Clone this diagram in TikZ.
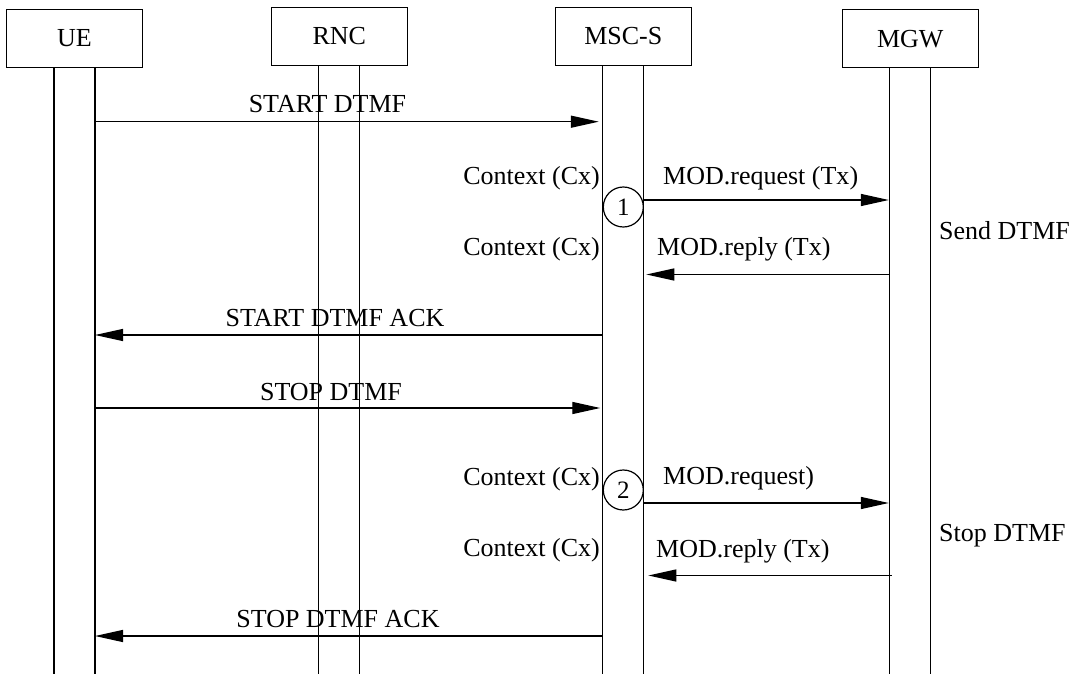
\documentclass[tikz,border=0pt]{standalone}
\usepackage{fontspec}
\setmainfont{Liberation Serif}
\usetikzlibrary{arrows.meta,positioning}

\begin{document}
\begin{tikzpicture}[x=1pt, y=-1pt,
      entity/.style={draw, line width=1pt, minimum width=136pt,
                     minimum height=58pt, inner sep=0pt,
                     font=\fontsize{26}{30}\selectfont},
      life/.style={line width=1.3pt},
      msg/.style={-{Triangle[length=28pt,width=12pt]}, line width=1.3pt},
      lbl/.style={inner sep=0pt, font=\fontsize{26}{30}\selectfont},
      txn/.style={draw, circle, line width=1.2pt, minimum size=40pt,
                  inner sep=0pt, font=\fontsize{25}{29}\selectfont}
    ]
    \useasboundingbox (0,0) rectangle (1073,674);
    % TOP: the four entities
    \node[entity] (ue)  at (74.5,38.5)  {UE};
    \node[entity] (rnc) at (339.3,36.2) {RNC};
    \node[entity] (msc) at (623.3,36.2) {MSC-S};
    \node[entity] (mgw) at (910.3,38.7) {MGW};
    % lifelines, two per entity
    \coordinate (bot) at (0,674);
    \foreach \e in {ue,rnc,msc,mgw} {
      \coordinate (\e L) at ([xshift=-20.5pt]\e.south);
      \coordinate (\e R) at ([xshift=20.5pt]\e.south);
      \draw[life] (\e L) -- (\e L |- bot);
      \draw[life] (\e R) -- (\e R |- bot);
    }
    % message rows
    \coordinate (r1) at (0,121.7);
    \coordinate (r2) at (0,200);
    \coordinate (r3) at (0,274.5);
    \coordinate (r4) at (0,335);
    \coordinate (r5) at (0,408);
    \coordinate (r6) at (0,503);
    \coordinate (r7) at (0,575.5);
    \coordinate (r8) at (0,636);
    % START DTMF
    \node[lbl, anchor=base] (sdtmf) at (327.5,113) {START DTMF};
    \draw[msg, shorten >=4pt] (ueR |- r1) -- (mscL |- r1);
    % first modify transaction
    \node[txn] (tx1) at (623.3,207) {1};
    \node[lbl, anchor=base east] (cx1) at (600,184) {Context (Cx)};
    \node[lbl, anchor=base west] (mreq1) at (663,184) {MOD.request (Tx)};
    \draw[msg, shorten >=1pt] (mscR |- r2) -- (mgwL |- r2);
    \node[lbl, anchor=base east] (cx2) at (600,255) {Context (Cx)};
    \node[lbl, anchor=base west] (mrep1) at (657,255) {MOD.reply (Tx)};
    \draw[msg, shorten >=2.5pt] (mgwL |- r3) -- (mscR |- r3);
    \node[lbl, anchor=base west] (send) at (939,239) {Send DTMF};
    % START DTMF ACK
    \node[lbl, anchor=base] (sack) at (335,326.5) {START DTMF ACK};
    \draw[msg] (mscL |- r4) -- (ueR |- r4);
    % STOP DTMF
    \node[lbl, anchor=base] (pdtmf) at (331,400) {STOP DTMF};
    \draw[msg, shorten >=2.5pt] (ueR |- r5) -- (mscL |- r5);
    % second modify transaction
    \node[txn] (tx2) at (623.3,490) {2};
    \node[lbl, anchor=base east] (cx3) at (600,485) {Context (Cx)};
    \node[lbl, anchor=base west] (mreq2) at (663,484) {MOD.request)};
    \draw[msg, shorten >=1pt] (mscR |- r6) -- (mgwL |- r6);
    \node[lbl, anchor=base east] (cx4) at (600,556) {Context (Cx)};
    \node[lbl, anchor=base west] (mrep2) at (656,557) {MOD.reply (Tx)};
    \draw[msg, shorten >=4.5pt, shorten <=-2pt] (mgwL |- r7) -- (mscR |- r7);
    \node[lbl, anchor=base west] (stop) at (939,541) {Stop DTMF};
    % STOP DTMF ACK
    \node[lbl, anchor=base] (pack) at (338,627.5) {STOP DTMF ACK};
    \draw[msg] (mscL |- r8) -- (ueR |- r8);
  \end{tikzpicture}
\end{document}
